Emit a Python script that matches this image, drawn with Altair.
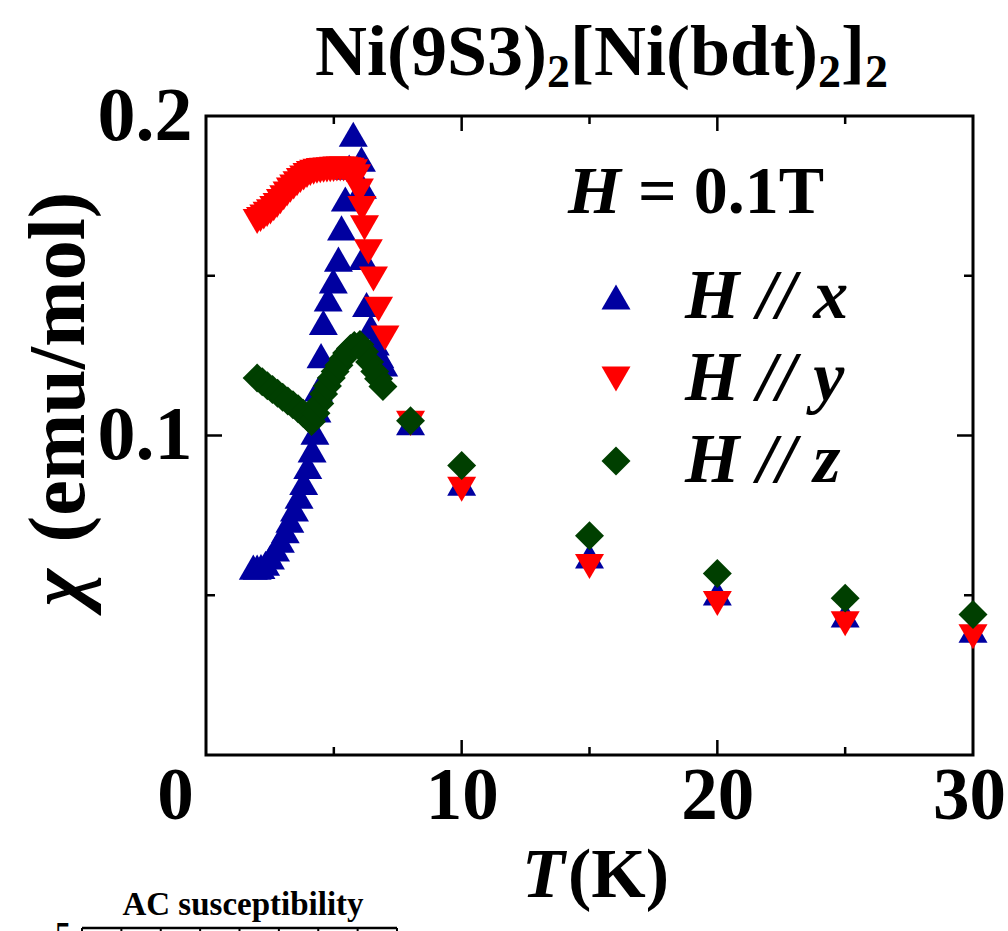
import altair as alt
import pandas as pd

# Magnetic susceptibility chi(T) of Ni(9S3)2[Ni(bdt)2]2 at H = 0.1 T
# H // x
t_x = [1.85, 2.00, 2.15, 2.33, 2.52, 2.72, 2.91, 3.10, 3.28, 3.46, 3.64, 3.82,
       3.98, 4.15, 4.26, 4.34, 4.40, 4.50, 4.59, 4.78, 4.98, 5.18, 5.30, 5.45,
       5.60, 5.76, 6.08, 6.12, 6.14, 6.28, 6.45, 6.62, 6.80, 6.95,
       8.0, 10.0, 15.0, 20.0, 25.0, 30.0]
chi_x = [0.0588, 0.0588, 0.0590, 0.0600, 0.0620, 0.0645, 0.0672, 0.0702, 0.0735,
         0.0770, 0.0810, 0.0853, 0.0903, 0.0955, 0.1010, 0.1080, 0.1146, 0.1250,
         0.1354, 0.1427, 0.1484, 0.1552, 0.1650, 0.1740, 0.1840, 0.1943, 0.1865,
         0.1780, 0.1557, 0.1410, 0.1340, 0.1290, 0.1250, 0.1224,
         0.1040, 0.0851, 0.0623, 0.0507, 0.0438, 0.0391]

# H // y
t_y = [2.00, 2.13, 2.26, 2.39, 2.52, 2.65, 2.78, 2.91, 3.04, 3.17, 3.30, 3.43,
       3.56, 3.69, 3.82, 3.95, 4.08, 4.21, 4.34, 4.47, 4.60, 4.73, 4.86, 4.99,
       5.12, 5.25, 5.38, 5.51, 5.64, 5.77, 5.89, 6.00, 6.10, 6.20, 6.35, 6.55,
       6.75, 7.00, 8.0, 10.0, 15.0, 20.0, 25.0, 30.0]
chi_y = [0.1670, 0.1676, 0.1684, 0.1692, 0.1700, 0.1710, 0.1720, 0.1732, 0.1744,
         0.1756, 0.1768, 0.1778, 0.1788, 0.1798, 0.1806, 0.1814, 0.1820, 0.1824,
         0.1827, 0.1829, 0.1830, 0.1831, 0.1832, 0.1833, 0.1834, 0.1834, 0.1834,
         0.1832, 0.1830, 0.1825, 0.1810, 0.1765, 0.1710, 0.1650, 0.1575, 0.1490,
         0.1395, 0.1305, 0.1038, 0.0832, 0.0590, 0.0474, 0.0411, 0.0370]

# H // z
t_z = [2.00, 2.20, 2.40, 2.60, 2.80, 3.00, 3.20, 3.40, 3.60, 3.80, 4.00, 4.13,
       4.30, 4.45, 4.60, 4.75, 4.90, 5.05, 5.20, 5.35, 5.50, 5.65, 5.80, 6.02,
       6.20, 6.40, 6.60, 6.75, 6.92, 8.0, 10.0, 15.0, 20.0, 25.0, 30.0]
chi_z = [0.1180, 0.1168, 0.1156, 0.1144, 0.1132, 0.1120, 0.1108, 0.1096, 0.1084,
         0.1070, 0.1055, 0.1044, 0.1070, 0.1100, 0.1130, 0.1155, 0.1180, 0.1200,
         0.1220, 0.1240, 0.1258, 0.1272, 0.1282, 0.1285, 0.1262, 0.1230, 0.1200,
         0.1178, 0.1153, 0.1046, 0.0906, 0.0686, 0.0568, 0.0491, 0.0440]

series_names = ["H // x", "H // y", "H // z"]
series_colors = ["#0000A0", "#FF0000", "#003F00"]
series_shapes = ["triangle-up", "triangle-down", "diamond"]
series_sizes = [840, 840, 1156]

x_label_values = [0, 10, 20, 30]
y_label_values = [0.1, 0.2]
x_major_ticks = [10, 20]
x_minor_ticks = [5, 15, 25]
y_major_ticks = [0.1]
y_minor_ticks = [0.05, 0.15]
inset_tick_values = [0, 1, 2, 3, 4, 5, 6, 7, 8]

W, H = 767, 639
SERIF = "Liberation Serif"

frames = [pd.DataFrame({"T": ts, "chi": cs, "series": name})
          for name, ts, cs in zip(series_names, [t_x, t_y, t_z], [chi_x, chi_y, chi_z])]
df = pd.concat(frames, ignore_index=True)

x_scale = alt.Scale(domain=[0, 30], nice=False, zero=False)
y_scale = alt.Scale(domain=[0, 0.2], nice=False, zero=False)

legend = alt.Legend(
    title=None, orient="none", legendX=375, legendY=146, padding=0,
    labelFont=SERIF, labelFontSize=70, labelFontWeight="bold",
    labelFontStyle="italic", labelColor="black", labelOffset=34,
    rowPadding=12, symbolStrokeWidth=0, symbolOpacity=1, labelLimit=400,
)

points = alt.Chart(df).mark_point(filled=True, opacity=1, strokeWidth=0).encode(
    x=alt.X("T:Q", scale=x_scale, axis=alt.Axis(
        values=x_label_values, format="d", title=None, domain=False,
        ticks=False, tickSize=0, grid=False, labelFont=SERIF, labelFontSize=73,
        labelFontWeight="bold", labelColor="black", labelPadding=5,
        labelFlush=False, labelOverlap=False,
        labelOffset={"condition": [{"test": "datum.value == 0", "value": -31},
                                   {"test": "datum.value == 30", "value": -4}],
                     "value": 0})),
    y=alt.Y("chi:Q", scale=y_scale, axis=alt.Axis(
        values=y_label_values, format=".1f", title=None, domain=False,
        ticks=False, tickSize=0, grid=False, labelFont=SERIF, labelFontSize=76,
        labelFontWeight="bold", labelColor="black", labelPadding=14,
        labelOverlap=False)),
    color=alt.Color("series:N", scale=alt.Scale(domain=series_names, range=series_colors), legend=legend),
    shape=alt.Shape("series:N", scale=alt.Scale(domain=series_names, range=series_shapes), legend=legend),
    size=alt.Size("series:N", scale=alt.Scale(domain=series_names, range=series_sizes), legend=legend),
)


def x_ticks(vals, y0, y1):
    return alt.Chart(pd.DataFrame({"T": vals})).mark_rule(color="black", strokeWidth=2.5).encode(
        x=alt.X("T:Q", scale=x_scale), y=alt.value(y0), y2=alt.value(y1))


def y_ticks(vals, x0, x1):
    return alt.Chart(pd.DataFrame({"chi": vals})).mark_rule(color="black", strokeWidth=2.5).encode(
        y=alt.Y("chi:Q", scale=y_scale), x=alt.value(x0), x2=alt.value(x1))


def label(text, x, y, size, style="normal", align="left", angle=0):
    return alt.Chart(pd.DataFrame({"s": [text]})).mark_text(
        align=align, baseline="alphabetic", font=SERIF, fontSize=size,
        fontWeight="bold", fontStyle=style, angle=angle, color="black",
    ).encode(x=alt.value(x), y=alt.value(y), text="s:N")


ticks = [
    x_ticks(x_major_ticks, H, H - 15), x_ticks(x_minor_ticks, H, H - 8),
    x_ticks(x_major_ticks, 0, 15), x_ticks(x_minor_ticks, 0, 8),
    y_ticks(y_major_ticks, 0, 16), y_ticks(y_minor_ticks, 0, 9),
    y_ticks(y_major_ticks, W, W - 16), y_ticks(y_minor_ticks, W, W - 9),
]

# Title with subscripts, laid out from Times-Bold advance widths
adv = {"N": 722, "i": 278, "(": 333, ")": 333, "9": 500, "S": 556, "3": 500,
       "[": 333, "]": 333, "b": 556, "d": 556, "t": 333, "2": 500}
title_runs = [("Ni(9S3)", False), ("2", True), ("[Ni(bdt)", False),
              ("2", True), ("]", False), ("2", True)]
TITLE_SIZE, SUB_SIZE = 72, 46
title_layers = []
cx = 109
for run, is_sub in title_runs:
    fs = SUB_SIZE if is_sub else TITLE_SIZE
    title_layers.append(label(run, cx, -29 if is_sub else -41, fs))
    cx += sum(adv[c] for c in run) / 1000 * fs

texts = title_layers + [
    label("H", 362, 97, 68, style="italic"),
    label("= 0.1T", 432, 97, 68),
    label("T", 316, 781, 70, style="italic"),
    label("(K)", 362, 781, 70),
    label("(emu/mol)", -122, 251, 80, align="center", angle=270),
    label("χ", -122, 472, 80, style="italic", align="center", angle=270),
    label("AC susceptibility", 37, 799, 33, align="center"),
    label("5", -143, 828, 32, align="center"),
]

main = alt.layer(points, *ticks, *texts)

# top frame of the AC-susceptibility panel below
inset_frame = alt.Chart(pd.DataFrame({"k": inset_tick_values})).mark_rule(
    color="black", strokeWidth=2).encode(
    x=alt.X("k:Q", scale=alt.Scale(domain=[0, 8], range=[-124, 191], nice=False, zero=False), axis=None),
    y=alt.value(812), y2=alt.value(824))
inset_line = alt.Chart(pd.DataFrame({"k": [0]})).mark_rule(color="black", strokeWidth=2.5).encode(
    x=alt.value(-124), x2=alt.value(191), y=alt.value(812))

chart = alt.layer(main, inset_frame, inset_line).resolve_scale(x="independent").properties(
    width=W, height=H,
    padding={"left": 206, "top": 116, "right": 35, "bottom": 176},
    autosize=alt.AutoSizeParams(type="none"),
    background="white",
).configure_view(stroke="black", strokeWidth=3)

chart.save("out.html", embed_options={"renderer": "svg", "actions": False})
